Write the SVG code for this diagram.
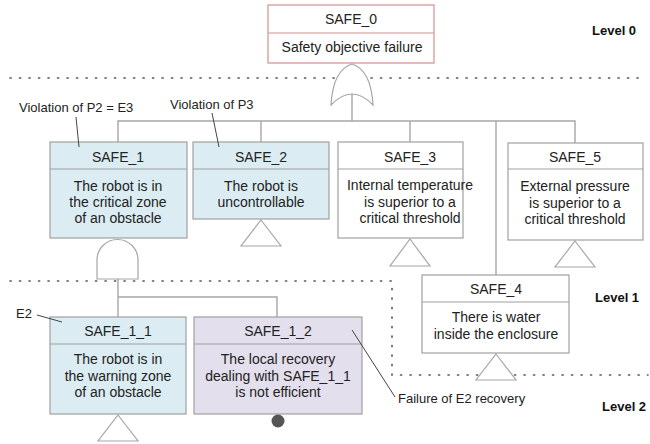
<svg xmlns="http://www.w3.org/2000/svg" width="650" height="444" viewBox="0 0 650 444">
  <style>
    .box { stroke: #a0a0a0; stroke-width: 1.2; }
    .blue { fill: #dbedf3; }
    .white { fill: #ffffff; }
    .lav { fill: #e4dfec; }
    .top { fill: #ffffff; stroke: #d4908f; stroke-width: 1.2; }
    .t { font-family: "Liberation Sans", Arial, sans-serif; font-size: 14px; fill: #222; text-anchor: middle; }
    .note { font-family: "Liberation Sans", Arial, sans-serif; font-size: 13px; fill: #222; }
    .lvl { font-family: "Liberation Sans", Arial, sans-serif; font-size: 13px; font-weight: bold; fill: #111; }
    .wire { fill: none; stroke: #a6a6a6; stroke-width: 1.4; }
    .gate { fill: #ffffff; stroke: #a6a6a6; stroke-width: 1.2; }
    .lead { fill: none; stroke: #444; stroke-width: 1; }
    .dots { fill: none; stroke: #555; stroke-width: 1.6; stroke-dasharray: 1.2 8.3; stroke-linecap: round; }
  </style>

  <!-- level separators -->
  <g id="levels">
    <path class="dots" d="M10,78 H645"/>
    <path class="dots" d="M10,281 H392 V375 H648"/>
    <text class="lvl" x="592" y="35">Level 0</text>
    <text class="lvl" x="595" y="302">Level 1</text>
    <text class="lvl" x="602" y="411">Level 2</text>
  </g>

  <!-- connectors -->
  <g id="connectors">
    <path class="wire" d="M352,94 V121"/>
    <path class="wire" d="M118,142 V121 H575 V143"/>
    <path class="wire" d="M261,121 V142"/>
    <path class="wire" d="M410,121 V142"/>
    <path class="wire" d="M496,121 V275"/>
    <path class="wire" d="M118,279 V317"/>
    <path class="wire" d="M118,297 H277 V317"/>
  </g>

  <!-- gates -->
  <g id="or_gate">
    <path class="gate" d="M331,105 Q333,70 352,64 Q371,70 373,105 Q352,83 331,105 Z"/>
  </g>
  <g id="and_gate">
    <path class="gate" d="M97,279 V260 A20.5,20.5 0 0 1 138,260 V279 Z"/>
  </g>

  <g id="SAFE_0">
    <rect class="top" x="268" y="5" width="166" height="58"/>
    <line x1="268" y1="33" x2="434" y2="33" stroke="#d4908f" stroke-width="1.2"/>
    <text class="t" x="351" y="24">SAFE_0</text>
    <text class="t" x="352" y="52">Safety objective failure</text>
  </g>

  <g id="SAFE_1">
    <rect class="box blue" x="50" y="142" width="137" height="96"/>
    <line class="box" x1="50" y1="169" x2="187" y2="169"/>
    <text class="t" x="118" y="162">SAFE_1</text>
    <text class="t" x="118" y="191">The robot is in</text>
    <text class="t" x="118" y="207">the critical zone</text>
    <text class="t" x="118" y="223">of an obstacle</text>
  </g>

  <g id="SAFE_2">
    <rect class="box blue" x="193" y="142" width="136" height="77"/>
    <line class="box" x1="193" y1="169" x2="329" y2="169"/>
    <text class="t" x="261" y="162">SAFE_2</text>
    <text class="t" x="261" y="191">The robot is</text>
    <text class="t" x="261" y="207">uncontrollable</text>
    <path class="gate" d="M261,220 L281,246 H241 Z"/>
  </g>

  <g id="SAFE_3">
    <rect class="box white" x="338" y="142" width="125" height="96"/>
    <line class="box" x1="338" y1="169" x2="463" y2="169"/>
    <text class="t" x="410" y="162">SAFE_3</text>
    <text class="t" x="410" y="190">Internal temperature</text>
    <text class="t" x="410" y="207">is superior to a</text>
    <text class="t" x="410" y="223">critical threshold</text>
    <path class="gate" d="M410,239 L430,266 H390 Z"/>
  </g>

  <g id="SAFE_5">
    <rect class="box white" x="508" y="143" width="135" height="97"/>
    <line class="box" x1="508" y1="169" x2="643" y2="169"/>
    <text class="t" x="575" y="162">SAFE_5</text>
    <text class="t" x="575" y="191">External pressure</text>
    <text class="t" x="575" y="208">is superior to a</text>
    <text class="t" x="575" y="224">critical threshold</text>
    <path class="gate" d="M575,241 L595,267 H555 Z"/>
  </g>

  <g id="SAFE_4">
    <rect class="box white" x="422" y="275" width="147" height="78"/>
    <line class="box" x1="422" y1="302" x2="569" y2="302"/>
    <text class="t" x="496" y="294">SAFE_4</text>
    <text class="t" x="496" y="322">There is water</text>
    <text class="t" x="496" y="339">inside the enclosure</text>
    <path class="gate" d="M496,354 L516,380 H476 Z"/>
  </g>

  <g id="SAFE_1_1">
    <rect class="box blue" x="50" y="317" width="136" height="97"/>
    <line class="box" x1="50" y1="344" x2="186" y2="344"/>
    <text class="t" x="118" y="336">SAFE_1_1</text>
    <text class="t" x="118" y="364">The robot is in</text>
    <text class="t" x="118" y="381">the warning zone</text>
    <text class="t" x="118" y="397">of an obstacle</text>
    <path class="gate" d="M118,415 L138,441 H98 Z"/>
  </g>

  <g id="SAFE_1_2">
    <rect class="box lav" x="194" y="317" width="168" height="97"/>
    <line class="box" x1="194" y1="344" x2="362" y2="344"/>
    <text class="t" x="278" y="336">SAFE_1_2</text>
    <text class="t" x="278" y="364">The local recovery</text>
    <text class="t" x="278" y="381">dealing with SAFE_1_1</text>
    <text class="t" x="278" y="397">is not efficient</text>
    <circle cx="278" cy="421" r="6.5" fill="#555"/>
  </g>

  <!-- annotations -->
  <g id="notes">
    <text class="note" x="19" y="112">Violation of P2 = E3</text>
    <path class="lead" d="M76,117 L79,147"/>
    <text class="note" x="170" y="109">Violation of P3</text>
    <path class="lead" d="M212,113 L219,147"/>
    <text class="note" x="16" y="318">E2</text>
    <path class="lead" d="M37,315 L62,322"/>
    <text class="note" x="398" y="403">Failure of E2 recovery</text>
    <path class="lead" d="M352,330 L395,397"/>
  </g>
</svg>
